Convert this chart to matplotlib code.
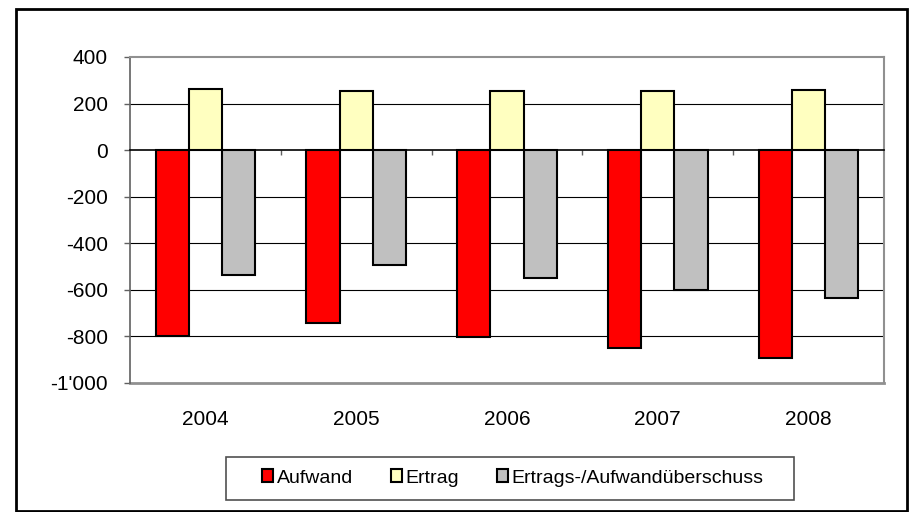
import matplotlib
matplotlib.use("Agg")
import numpy as np
from matplotlib import pyplot as plt
from matplotlib.patches import Rectangle
from matplotlib.transforms import blended_transform_factory

plt.rcParams['font.family'] = ['Liberation Sans', 'DejaVu Sans']

years = ['2004', '2005', '2006', '2007', '2008']
aufwand = [-800, -743, -803, -850, -894]
ertrag = [263, 254, 256, 254, 260]
ueberschuss = [-537, -493, -549, -599, -637]

series_names = ['Aufwand', 'Ertrag', 'Ertrags-/Aufwandüberschuss']
colors = ['#FF0000', '#FFFFC0', '#C0C0C0']

W, H = 919, 512
fig = plt.figure(figsize=(W / 100, H / 100), dpi=100)
ax = fig.add_axes([130/W, 1 - 383/H, (884-130)/W, (383-57)/H])

x = np.arange(len(years))
w = 0.22
for i, (vals, name, col) in enumerate(zip([aufwand, ertrag, ueberschuss], series_names, colors)):
    ax.bar(x + (i - 1) * w, vals, w, color=col, edgecolor='black', linewidth=1.5,
           label=name, zorder=3)

ax.set_xlim(-0.5, len(years) - 0.5)
ax.set_ylim(-1000, 400)
yt = np.arange(-1000, 401, 200)
ax.set_yticks(yt)
ax.set_yticklabels([f"{v:,}".replace(',', "'") for v in yt], fontsize=15)
ax.tick_params(axis='y', direction='out', length=4.3, width=1, color='#606060', pad=11.5)

# horizontal gridlines
for v in yt[1:-1]:
    if v != 0:
        ax.axhline(v, color='black', linewidth=0.8, zorder=1)

# category axis sits at zero
ax.spines['bottom'].set_position(('data', 0))
ax.spines['bottom'].set_color('black')
ax.spines['bottom'].set_linewidth(1.2)
ax.spines['bottom'].set_zorder(4)
ax.set_xticks(np.arange(0.5, len(years) - 0.5, 1.0))
ax.set_xticklabels([])
ax.tick_params(axis='x', direction='out', length=3.6, width=1, color='#606060')

trans = blended_transform_factory(ax.transData, ax.transAxes)
for xi, label in zip(x, years):
    ax.text(xi, -0.112, label, transform=trans, ha='center', va='center', fontsize=15)

ax.spines['left'].set_color('#606060')
ax.spines['left'].set_linewidth(1.2)
ax.spines['top'].set_color('#909090')
ax.spines['top'].set_linewidth(1.5)
ax.spines['right'].set_color('#909090')
ax.spines['right'].set_linewidth(1.5)
ax.axhline(-1000, color='#909090', linewidth=2, zorder=2, clip_on=False)

leg = fig.legend(loc='center', bbox_to_anchor=(513/W, 1 - 478/H), ncol=3,
                 fontsize=14, frameon=False,
                 handlelength=0.55, handleheight=0.6, handletextpad=0.2,
                 columnspacing=1.95, borderpad=0, borderaxespad=0)
for h in leg.legend_handles:
    h.set_linewidth(1.5)

# legend box
fig.add_artist(Rectangle((226/W, 1 - 500/H), (794-226)/W, (500-457)/H,
                         transform=fig.transFigure, fill=False,
                         edgecolor='#505050', linewidth=1.2))

# outer chart frame
fig.add_artist(Rectangle((16/W, 1/H), (907-16)/W, (511-9)/H,
                         transform=fig.transFigure, fill=False,
                         edgecolor='black', linewidth=2))

fig.savefig('out.png', dpi=100)
